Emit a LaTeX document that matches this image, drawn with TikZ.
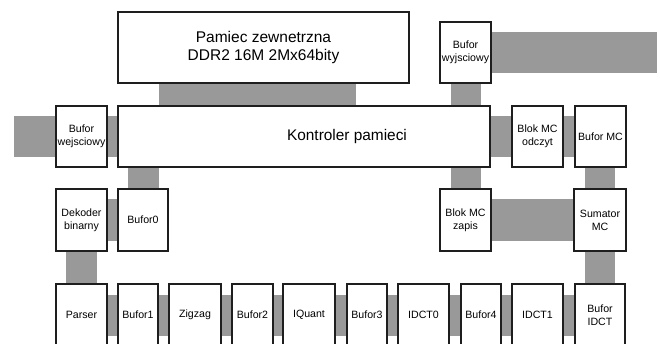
\documentclass[tikz,border=0pt]{standalone}
\usepackage{fontspec}
\setmainfont{Liberation Sans}
\usetikzlibrary{backgrounds}
\definecolor{szary}{HTML}{999999}
\definecolor{ramka}{HTML}{1E1E1E}

\begin{document}
\begin{tikzpicture}[
        % 1 单位 = 1pt，y 轴向下，与参考图的像素一致
        x=1pt, y=-1pt,
        % 定义方框样式
        blok/.style={draw=ramka, line width=1.3pt, fill=white, inner sep=0pt,
            align=center, minimum width=51pt, minimum height=61pt,
            font=\fontsize{10.6}{13}\selectfont},
        duzy/.style={blok, font=\fontsize{15.5}{18.7}\selectfont},
        % 灰色总线，参数为宽度
        szyna/.style={draw=szary, line width=#1},
        szyna/.default=41pt
    ]
    % 画布大小
    \path[use as bounding box, clip] (0,0) rectangle (660,343);

    % --- 上方：外部存储器与输出缓冲 ---
    \node[duzy, minimum width=291pt, minimum height=71pt] (pamiec) at (263.5,47.5)
        {Pamiec zewnetrzna\\DDR2 16M 2Mx64bity};
    \node[blok] (bwyj) at (465.5,52.5) {Bufor\\wyjsciowy};
    \coordinate (wyjscie) at (657,52.5);

    % --- 第二行：存储器控制器 ---
    \node[blok] (bwej) at (81.5,136.5) {Bufor\\wejsciowy};
    \coordinate (wejscie) at (14,136.5);
    \node[blok, minimum width=372pt,
        label={[xshift=43pt, font=\fontsize{15.4}{18}\selectfont]center:Kontroler pamieci}]
        (kontroler) at (304,136.5) {};
    \node[blok] (odczyt) at (537.5,136.5) {Blok MC\\odczyt};
    \node[blok] (bufmc) at (600.5,136.5) {Bufor MC};

    % --- 第三行 ---
    \node[blok, minimum height=62pt] (dekoder) at (81.5,220) {Dekoder\\binarny};
    \node[blok, minimum width=50pt, minimum height=62pt] (bufor0) at (143,220) {Bufor0};
    \node[blok, minimum height=62pt] (zapis) at (465.5,220) {Blok MC\\zapis};
    \node[blok, minimum width=52pt, minimum height=62pt] (sumator) at (600,220) {Sumator\\MC};

    % --- 底行：解码流水线（下边被裁掉） ---
    \node[blok, minimum height=62pt] (parser) at (81.5,315) {Parser};
    \node[blok, minimum width=40pt, minimum height=62pt] (bufor1) at (138,315) {Bufor1};
    \node[blok, minimum width=52pt, minimum height=62pt] (zigzag) at (195,315) {Zigzag};
    \node[blok, minimum width=41pt, minimum height=62pt] (bufor2) at (252.5,315) {Bufor2};
    \node[blok, minimum width=52pt, minimum height=62pt] (iquant) at (309,315) {IQuant};
    \node[blok, minimum width=40pt, minimum height=62pt] (bufor3) at (367,315) {Bufor3};
    \node[blok, minimum height=62pt] (idct0) at (423.5,315) {IDCT0};
    \node[blok, minimum width=40pt, minimum height=62pt] (bufor4) at (481,315) {Bufor4};
    \node[blok, minimum height=62pt] (idct1) at (537.5,315) {IDCT1};
    \node[blok, minimum width=50pt, minimum height=62pt] (bidct) at (600,315) {Bufor\\IDCT};

    % --- 灰色总线（放在背景层） ---
    \begin{pgfonlayer}{background}
        % 水平
        \draw[szyna] (bwyj.east) -- (wyjscie);
        \draw[szyna] (wejscie) -- (bwej.west);
        \draw[szyna] (bwej.east) -- (kontroler.west);
        \draw[szyna] (kontroler.east) -- (odczyt.west);
        \draw[szyna] (odczyt.east) -- (bufmc.west);
        \draw[szyna=42pt] (dekoder.east) -- (bufor0.west);
        \draw[szyna=42pt] (zapis.east) -- (sumator.west);
        \draw[szyna] (parser.east) -- (bufor1.west);
        \draw[szyna] (bufor1.east) -- (zigzag.west);
        \draw[szyna] (zigzag.east) -- (bufor2.west);
        \draw[szyna] (bufor2.east) -- (iquant.west);
        \draw[szyna] (iquant.east) -- (bufor3.west);
        \draw[szyna] (bufor3.east) -- (idct0.west);
        \draw[szyna] (idct0.east) -- (bufor4.west);
        \draw[szyna] (bufor4.east) -- (idct1.west);
        \draw[szyna] (idct1.east) -- (bidct.west);
        % 垂直
        \draw[szyna=197pt] ([xshift=-6pt]pamiec.south) -- ([xshift=-6pt]pamiec.south |- kontroler.north);
        \draw[szyna=30pt] (bwyj.south) -- (bwyj.south |- kontroler.north);
        \draw[szyna=31pt] (bufor0.north) -- (bufor0.north |- kontroler.south);
        \draw[szyna=30pt] (zapis.north) -- (zapis.north |- kontroler.south);
        \draw[szyna=30pt] (sumator.north) -- (sumator.north |- bufmc.south);
        \draw[szyna=31pt] (dekoder.south) -- (parser.north);
        \draw[szyna=30pt] (sumator.south) -- (bidct.north);
    \end{pgfonlayer}

\end{tikzpicture}
\end{document}
